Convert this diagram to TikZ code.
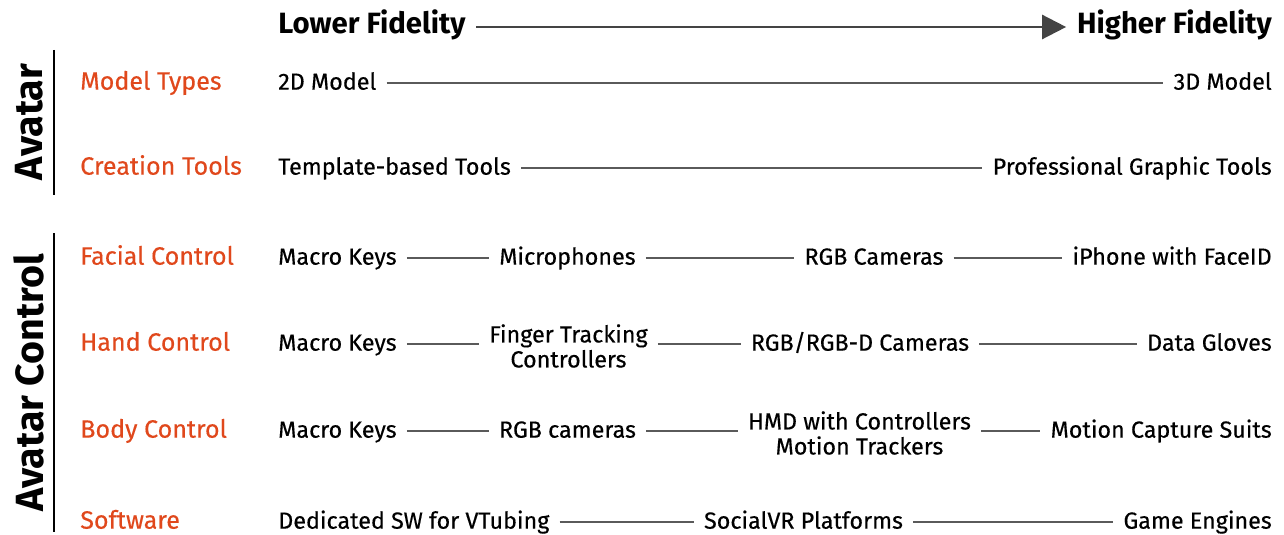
\documentclass[tikz,border=0pt]{standalone}
\usepackage{fontspec}
\setmainfont{Fira Sans}
\usetikzlibrary{arrows.meta}
\definecolor{catcol}{RGB}{224,72,28}
\definecolor{lncol}{RGB}{90,90,90}
\definecolor{arrcol}{RGB}{68,68,68}
\newfontfamily\itemfamily[FakeBold=0.35]{Fira Sans}
\newcommand{\itemfont}{\itemfamily\fontsize{17.5}{18.75}\selectfont}
\newcommand{\catfont}{\itemfamily\fontsize{18.8}{20}\selectfont}
\newcommand{\headfont}{\fontsize{22}{24}\selectfont\bfseries}
\newcommand{\groupfont}{\fontsize{29.5}{32}\selectfont\bfseries}
\begin{document}
\begin{tikzpicture}[x=0.75pt,y=-0.75pt,
  item/.style={font=\itemfont, inner sep=0pt, text height=12pt, text depth=2pt, align=center},
  item2/.style={font=\itemfont, inner sep=0pt, align=center},
  catlabel/.style={font=\catfont, text=catcol, inner sep=0pt, text height=12pt, text depth=2pt, anchor=west},
  head/.style={font=\headfont, inner sep=0pt, text height=14pt, text depth=4pt},
  group/.style={font=\groupfont, inner sep=0pt, rotate=90},
  conn/.style={draw=lncol, line width=0.8pt, shorten >=7.5pt, shorten <=7.5pt},
  bar/.style={draw=black, line width=1.2pt},
]
\useasboundingbox (0,0) rectangle (1284,535);

% header
\node[head, anchor=west] (lo) at (278,27) {Lower Fidelity};
\node[head, anchor=east] (hi) at (1272,27) {Higher Fidelity};
\draw[draw=arrcol, fill=arrcol, line width=1.9pt, shorten >=8pt, shorten <=8pt,
  -{Triangle[length=18pt,width=18pt]}] (lo.east) -- (hi.west);

% groups
\node[group] (gA) at (29,122) {Avatar};
\coordinate (bA1) at (54,50);
\coordinate (bA2) at (54,195);
\draw[bar] (bA1) -- (bA2);
\node[group] (gC) at (29,383) {Avatar Control};
\coordinate (bC1) at (54,233);
\coordinate (bC2) at (54,532);
\draw[bar] (bC1) -- (bC2);

% category labels
\node[catlabel] (c1) at (80,83) {Model Types};
\node[catlabel] (c2) at (80,168) {Creation Tools};
\node[catlabel] (c3) at (80,258) {Facial Control};
\node[catlabel] (c4) at (80,344) {Hand Control};
\node[catlabel] (c5) at (80,431) {Body Control};
\node[catlabel] (c6) at (80,522) {Software};

% row 1
\node[item, anchor=west] (r1a) at (278,83) {2D Model};
\node[item, anchor=east] (r1b) at (1272,83) {3D Model};
\draw[conn] (r1a.east) -- (r1b.west);

% row 2
\node[item, anchor=west] (r2a) at (278,168) {Template-based Tools};
\node[item, anchor=east] (r2b) at (1272,168) {Professional Graphic Tools};
\draw[conn] (r2a.east) -- (r2b.west);

% row 3
\node[item, anchor=west] (r3a) at (278,258) {Macro Keys};
\node[item] (r3b) at (567.5,258) {Microphones};
\node[item] (r3c) at (874,258) {RGB Cameras};
\node[item, anchor=east] (r3d) at (1272,258) {iPhone with FaceID};
\draw[conn] (r3a.east) -- (r3b.west);
\draw[conn] (r3b.east) -- (r3c.west);
\draw[conn] (r3c.east) -- (r3d.west);

% row 4
\node[item, anchor=west] (r4a) at (278,344) {Macro Keys};
\node[item2] (r4b) at (568.5,346) {Finger Tracking\\Controllers};
\node[item] (r4c) at (860,344) {RGB/RGB-D Cameras};
\node[item, anchor=east] (r4d) at (1272,344) {Data Gloves};
\draw[conn] (r4a.east) -- (r4b.west |- r4a.east);
\draw[conn] (r4b.east |- r4c.west) -- (r4c.west);
\draw[conn] (r4c.east) -- (r4d.west);

% row 5
\node[item, anchor=west] (r5a) at (278,431) {Macro Keys};
\node[item] (r5b) at (567.5,431) {RGB cameras};
\node[item2] (r5c) at (859.5,433) {HMD with Controllers\\Motion Trackers};
\node[item, anchor=east] (r5d) at (1272,431) {Motion Capture Suits};
\draw[conn] (r5a.east) -- (r5b.west);
\draw[conn] (r5b.east) -- (r5c.west |- r5b.east);
\draw[conn] (r5c.east |- r5d.west) -- (r5d.west);

% row 6
\node[item, anchor=west] (r6a) at (278,522) {Dedicated SW for VTubing};
\node[item] (r6b) at (803.5,522) {SocialVR Platforms};
\node[item, anchor=east] (r6c) at (1272,522) {Game Engines};
\draw[conn] (r6a.east) -- (r6b.west);
\draw[conn] (r6b.east) -- (r6c.west);
\end{tikzpicture}
\end{document}
